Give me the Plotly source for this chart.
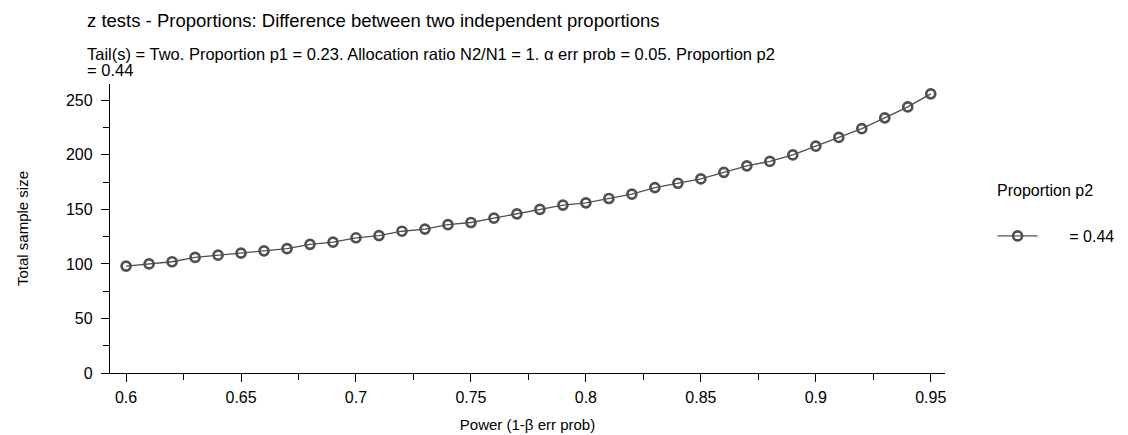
import plotly.graph_objects as go

power = [0.60, 0.61, 0.62, 0.63, 0.64, 0.65, 0.66, 0.67, 0.68, 0.69,
         0.70, 0.71, 0.72, 0.73, 0.74, 0.75, 0.76, 0.77, 0.78, 0.79,
         0.80, 0.81, 0.82, 0.83, 0.84, 0.85, 0.86, 0.87, 0.88, 0.89,
         0.90, 0.91, 0.92, 0.93, 0.94, 0.95]
total_n = [98, 100, 102, 106, 108, 110, 112, 114, 118, 120,
           124, 126, 130, 132, 136, 138, 142, 146, 150, 154,
           156, 160, 164, 170, 174, 178, 184, 190, 194, 200,
           208, 216, 224, 234, 244, 256]
x_ticks = [0.6, 0.65, 0.7, 0.75, 0.8, 0.85, 0.9, 0.95]
x_tick_text = ["0.6", "0.65", "0.7", "0.75", "0.8", "0.85", "0.9", "0.95"]
y_ticks = [0, 50, 100, 150, 200, 250]

legend_title = "Proportion p2"
series_name = "\u00a0" * 6 + "= 0.44"
title_text = "z tests - Proportions: Difference between two independent proportions"
subtitle_1 = "Tail(s) = Two. Proportion p1 = 0.23. Allocation ratio N2/N1 = 1. \u03b1 err prob = 0.05. Proportion p2"
subtitle_2 = "= 0.44"

FONT = "Liberation Sans, Arial, sans-serif"
COL = "#505050"

fig = go.Figure()
fig.add_trace(go.Scatter(
    x=power, y=total_n, mode="lines+markers", name=series_name,
    line=dict(color=COL, width=1.3),
    marker=dict(symbol="circle-open", size=9, color=COL, line=dict(width=2.7, color=COL)),
))

axis_common = dict(
    showgrid=False, zeroline=False, showline=True, linecolor="black", linewidth=1.3,
    ticks="outside", ticklen=8, tickwidth=1.3, tickcolor="black", automargin=False,
    tickfont=dict(family=FONT, size=16, color="black"),
)
fig.update_xaxes(
    range=[0.5930, 0.9562], tickvals=x_ticks, ticktext=x_tick_text, ticklabelstandoff=2,
    minor=dict(dtick=0.025, tick0=0.6, ticks="outside", ticklen=6, tickwidth=1.3, tickcolor="black"),
    title=dict(text="Power (1-\u03b2 err prob)", font=dict(family=FONT, size=15, color="black"), standoff=14),
    **axis_common,
)
fig.update_yaxes(
    range=[0, 265], tickvals=y_ticks, ticklabelstandoff=5,
    minor=dict(dtick=25, tick0=0, ticks="outside", ticklen=6, tickwidth=1.3, tickcolor="black"),
    title=dict(text="Total sample size", font=dict(family=FONT, size=15, color="black"), standoff=33),
    **axis_common,
)

fig.add_annotation(text=title_text, xref="paper", yref="paper", x=-0.030, y=1.218,
                   xanchor="left", yanchor="middle", showarrow=False,
                   font=dict(family=FONT, size=18.5, color="black"))
fig.add_annotation(text=subtitle_1, xref="paper", yref="paper", x=-0.030, y=1.104,
                   xanchor="left", yanchor="middle", showarrow=False,
                   font=dict(family=FONT, size=16.5, color="black"))
fig.add_annotation(text=subtitle_2, xref="paper", yref="paper", x=-0.030, y=1.048,
                   xanchor="left", yanchor="middle", showarrow=False,
                   font=dict(family=FONT, size=16.5, color="black"))
fig.add_annotation(text=legend_title, xref="paper", yref="paper", x=1.0595, y=0.633,
                   xanchor="left", yanchor="middle", showarrow=False,
                   font=dict(family=FONT, size=16, color="black"))

fig.update_layout(
    width=1128, height=435,
    margin=dict(l=102, r=191, t=76, b=70),
    paper_bgcolor="white", plot_bgcolor="white",
    showlegend=True,
    legend=dict(
        x=1.057, y=0.474, xanchor="left", yanchor="middle",
        font=dict(family=FONT, size=16, color="black"),
        itemwidth=40,
    ),
    font=dict(family=FONT, color="black"),
)

fig.write_html("out.html")
